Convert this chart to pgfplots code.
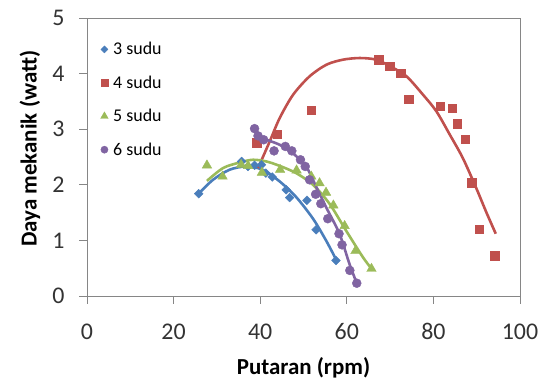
\documentclass[border=0pt]{standalone}
\usepackage{pgfplots}
\pgfplotsset{compat=1.18}
\usepackage{fontspec}
\setmainfont{Carlito}
\definecolor{cblue}{HTML}{4A7EBB}
\definecolor{cred}{HTML}{C0504D}
\definecolor{cgreen}{HTML}{9BBB59}
\definecolor{cpurple}{HTML}{8064A2}
\definecolor{axgray}{HTML}{868686}
\begin{document}
\begin{tikzpicture}
\begin{axis}[
  scale only axis, width=433bp, height=278bp,
  xmin=0, xmax=100, ymin=0, ymax=5,
  xtick={0,20,40,60,80,100}, ytick={0,1,2,3,4,5},
  tick pos=left, tick align=outside, major tick length=8bp,
  axis line style={axgray, line width=0.8bp},
  tick style={axgray, line width=0.8bp},
  /pgf/number format/assume math mode=true,
  ticklabel style={font=\fontsize{24}{26}\selectfont, text=black!80},
  xticklabel style={yshift=-16bp},
  yticklabel style={xshift=-11bp},
  xlabel={\textbf{Putaran (rpm)}},
  ylabel={\textbf{Daya mekanik (watt)}},
  label style={font=\fontsize{23}{26}\selectfont},
  xlabel style={at={(axis description cs:0.5,-0.284)}, anchor=base},
  ylabel style={at={(axis description cs:-0.132,0.53)}, anchor=center},
  legend style={draw=none, fill=none, at={(axis description cs:0.031,0.92)}, anchor=north west,
    font=\fontsize{18}{20}\selectfont, row sep=15.5bp, inner sep=0pt},
  legend image post style={scale=0.8},
  legend cell align=left,
]
\coordinate (sw) at (rel axis cs:0,0);
\coordinate (ne) at (rel axis cs:1,1);
% data points
\addplot[only marks, mark=square*, mark options={rotate=45, fill=cblue, draw=cblue}, mark size=3.1bp] coordinates {
(25.8,1.84) (35.7,2.42) (37.2,2.33) (38.7,2.35) (40.3,2.36) (41.3,2.21) (42.8,2.14)
(46.0,1.91) (46.8,1.77) (50.8,1.72) (52.9,1.19) (57.5,0.64)};
\addlegendentry{\hspace{3bp}3 sudu}
\addplot[only marks, mark=square*, mark options={fill=cred, draw=cred}, mark size=4.3bp] coordinates {
(39.2,2.76) (43.9,2.91) (51.8,3.34) (67.4,4.25) (69.9,4.13) (72.5,4.01) (74.3,3.54)
(81.6,3.41) (84.3,3.38) (85.5,3.10) (87.3,2.82) (88.8,2.04) (90.6,1.20) (94.1,0.72)};
\addlegendentry{\hspace{3bp}4 sudu}
\addplot[only marks, mark=triangle*, mark options={fill=cgreen, draw=cgreen}, mark size=5.5bp] coordinates {
(27.7,2.35) (31.3,2.15) (35.6,2.36) (37.2,2.34) (40.4,2.22) (44.6,2.27) (48.4,2.26)
(51.8,2.15) (53.7,2.03) (55.2,1.86) (56.9,1.63) (59.5,1.26) (62.0,0.81) (65.7,0.49)};
\addlegendentry{\hspace{3bp}5 sudu}
\addplot[only marks, mark=*, mark options={fill=cpurple, draw=cpurple}, mark size=4.5bp] coordinates {
(38.7,3.01) (39.5,2.88) (40.8,2.81) (43.2,2.61) (45.8,2.69) (47.3,2.61) (49.3,2.45)
(50.4,2.33) (51.4,2.09) (52.8,1.83) (54.0,1.66) (55.6,1.39) (58.2,1.12) (58.9,0.92)
(60.7,0.46) (62.3,0.23)};
\addlegendentry{\hspace{3bp}6 sudu}
% trend lines
\addplot[cblue, line width=2.6bp, smooth, no marks, forget plot] coordinates {
(25.8,1.84) (29.1,2.09) (32.9,2.27) (36.8,2.33) (40.6,2.27) (44.5,2.06) (48.3,1.78)
(52.2,1.39) (55.2,1.00) (57.5,0.66)};
\addplot[cred, line width=2.6bp, smooth, no marks, forget plot] coordinates {
(39.5,2.30) (42.2,2.78) (44.5,3.20) (47.6,3.62) (51.4,3.95) (55.3,4.16) (59.1,4.25)
(63.0,4.28) (66.8,4.25) (70.3,4.12) (73.8,3.95) (77.6,3.62) (80.7,3.32) (83.8,2.90)
(86.8,2.48) (89.9,1.94) (92.2,1.51) (94.4,1.12)};
\addplot[cgreen, line width=2.6bp, smooth, no marks, forget plot] coordinates {
(27.7,2.07) (31.4,2.30) (35.2,2.40) (38.3,2.45) (41.4,2.42) (44.5,2.34) (48.3,2.21)
(52.2,2.00) (56.0,1.66) (59.8,1.18) (63.7,0.70) (66.0,0.46)};
\addplot[cpurple, line width=2.6bp, smooth, no marks, forget plot] coordinates {
(38.7,2.96) (40.6,2.84) (44.5,2.72) (47.5,2.57) (50.6,2.33) (52.9,1.97) (55.2,1.60)
(58.3,1.12) (60.6,0.58) (62.2,0.25)};
\draw[axgray, line width=0.8bp] (rel axis cs:0,1) -- (rel axis cs:1,1) -- (rel axis cs:1,0);
\end{axis}
\pgfresetboundingbox
\path[use as bounding box] ([xshift=-87bp,yshift=-89bp]sw) rectangle ([xshift=27bp,yshift=18bp]ne);
\end{tikzpicture}
\end{document}
